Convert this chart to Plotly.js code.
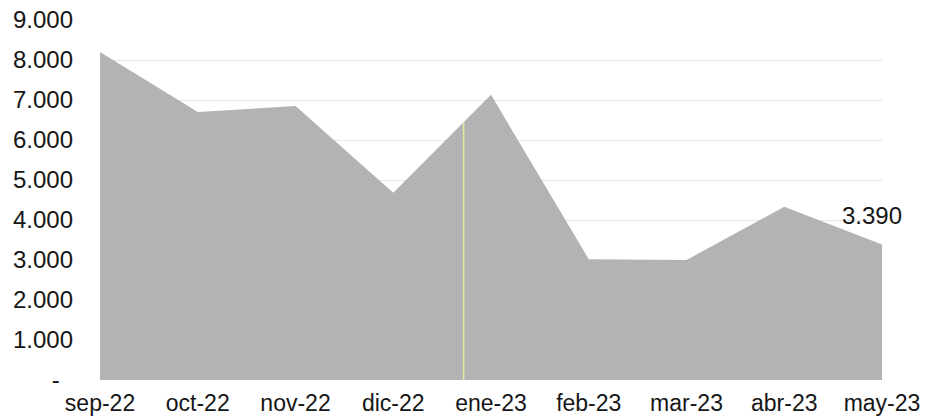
<!DOCTYPE html>
<html>
<head>
<meta charset="utf-8">
<script src="https://cdn.plot.ly/plotly-3.0.1.min.js"></script>
<style>
  html, body { margin: 0; padding: 0; background: #ffffff; }
  #chart { width: 925px; height: 420px; }
</style>
</head>
<body>
<div id="chart"></div>
<script>
const months = ["sep-22", "oct-22", "nov-22", "dic-22", "ene-23", "feb-23", "mar-23", "abr-23", "may-23"];
const values = [8200, 6700, 6850, 4680, 7130, 3020, 3000, 4330, 3390];
const yTickVals = [0, 1000, 2000, 3000, 4000, 5000, 6000, 7000, 8000, 9000];
const yTickText = ["-\u00a0\u00a0", "1.000", "2.000", "3.000", "4.000", "5.000", "6.000", "7.000", "8.000", "9.000"];
const labelIndex = 8;
const markerPos = 3.72; // pale vertical line between dic-22 and ene-23

function fmt(v) {
  return String(v).replace(/\B(?=(\d{3})+(?!\d))/g, ".");
}

const xIdx = months.map((_, i) => i);
const lo = Math.floor(markerPos), frac = markerPos - lo;
const markerTop = values[lo] + (values[lo + 1] - values[lo]) * frac;

const font = { family: "Liberation Sans, Arial, sans-serif", size: 24, color: "#161616" };
const xfont = { family: "Liberation Sans, Arial, sans-serif", size: 23, color: "#161616" };

const trace = {
  x: xIdx,
  y: values,
  type: "scatter",
  mode: "lines",
  fill: "tozeroy",
  fillcolor: "#b3b3b3",
  line: { width: 0, color: "#b3b3b3" },
  hoverinfo: "skip"
};

const layout = {
  width: 925,
  height: 420,
  margin: { l: 100, r: 43, t: 20, b: 40 },
  paper_bgcolor: "#ffffff",
  plot_bgcolor: "#ffffff",
  showlegend: false,
  font: font,
  xaxis: {
    range: [0, 8],
    tickmode: "array",
    tickvals: xIdx,
    ticktext: months,
    showgrid: false,
    zeroline: false,
    showline: false,
    ticks: "",
    ticklabelstandoff: 7,
    tickfont: xfont,
    fixedrange: true
  },
  yaxis: {
    range: [0, 9000],
    tickmode: "array",
    tickvals: yTickVals,
    ticktext: yTickText,
    showgrid: true,
    gridcolor: "#e6e6e6",
    gridwidth: 1,
    zeroline: false,
    showline: false,
    ticks: "",
    ticklabelstandoff: 26,
    tickfont: font,
    fixedrange: true
  },
  shapes: [{
    type: "line",
    xref: "x", yref: "y",
    x0: markerPos, x1: markerPos,
    y0: 0, y1: markerTop,
    line: { color: "#e2e8a4", width: 1.5 }
  }],
  annotations: [{
    x: labelIndex,
    y: values[labelIndex],
    xref: "x", yref: "y",
    text: fmt(values[labelIndex]),
    showarrow: false,
    xanchor: "center",
    yanchor: "middle",
    xshift: -10,
    yshift: 29,
    font: font
  }]
};

Plotly.newPlot("chart", [trace], layout, { displayModeBar: false, staticPlot: true });
</script>
</body>
</html>
